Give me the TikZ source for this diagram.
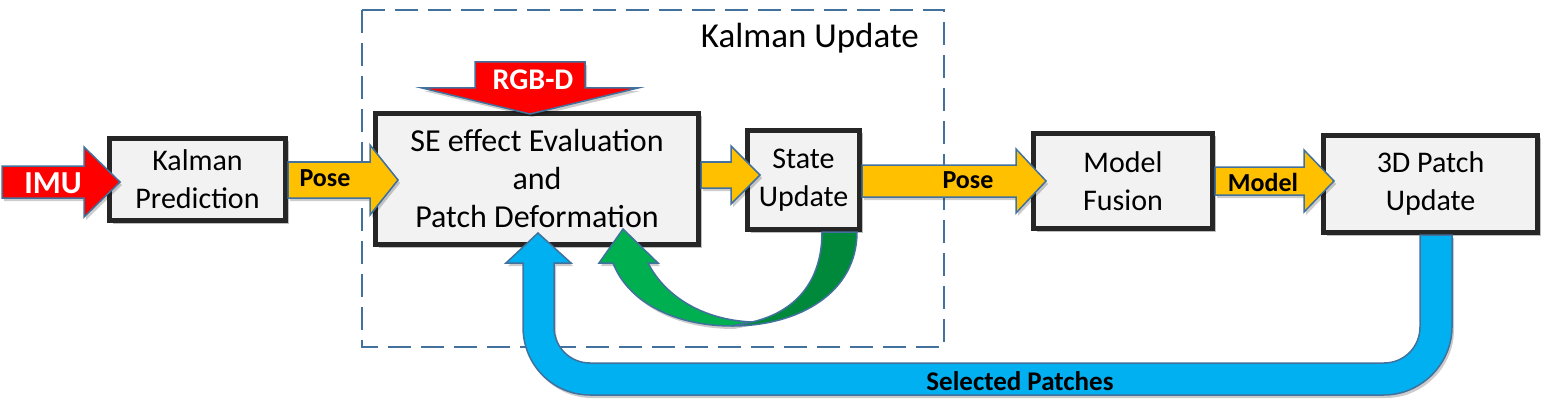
\documentclass[tikz,border=0pt]{standalone}
\usepackage{fontspec}
\setmainfont{Carlito}
\usetikzlibrary{calc,shadows}
\definecolor{boxline}{HTML}{262626}
\definecolor{boxfill}{HTML}{F2F2F2}
\definecolor{edge}{HTML}{41719C}
\definecolor{amber}{HTML}{FFC000}
\definecolor{imured}{HTML}{FF0000}
\definecolor{pipeblue}{HTML}{00B0F0}
\definecolor{lgreen}{HTML}{00B050}
\definecolor{dgreen}{HTML}{00883B}
\tikzset{
  procbox/.style={draw=boxline, line width=5pt, fill=boxfill, align=center,
    font=\fontsize{30}{38}\selectfont, inner sep=0pt,
    drop shadow={shadow xshift=3pt, shadow yshift=-3pt, opacity=0.25, fill=black}},
  blockarrow/.style={draw=edge, line width=1.5pt, line join=miter},
  lbl/.style={font=\fontsize{26}{30}\selectfont\bfseries, inner sep=0pt},
  wlbl/.style={font=\fontsize{32}{36}\selectfont\bfseries, text=white, inner sep=0pt},
  groupbox/.style={draw=edge, line width=2.5pt, dash pattern=on 23pt off 10pt},
  ashadow/.style={drop shadow={shadow xshift=2pt, shadow yshift=-3pt, opacity=0.2, fill=black}}
}
% horizontal block arrow: #1 start, #2 tip, #3 shaft half, #4 head half, #5 head length, #6 fill
\newcommand{\harrow}[6]{%
  \filldraw[blockarrow, fill=#6, ashadow] ($(#1)+(0,-#3)$) -- ($(#2)+(-#5,-#3)$) -- ($(#2)+(-#5,-#4)$) -- (#2)
   -- ($(#2)+(-#5,#4)$) -- ($(#2)+(-#5,#3)$) -- ($(#1)+(0,#3)$) -- cycle;}
\begin{document}
\begin{tikzpicture}[x=1pt,y=-1pt]
\useasboundingbox (0,0) rectangle (1550,409);

% group
\draw[groupbox] (362,10) rectangle (944,347);
\node[anchor=east, font=\fontsize{35}{40}\selectfont, inner sep=0pt] (kutitle) at (919,38) {Kalman Update};

% boxes
\node[procbox, minimum width=176pt, minimum height=82pt] (kp) at (197.5,179.5) {Kalman\\Prediction};
\node[procbox, minimum width=323pt, minimum height=131pt, font=\fontsize{32}{38}\selectfont] (se) at (537,179) {SE effect Evaluation\\and\\Patch Deformation};
\node[procbox, minimum width=112pt, minimum height=99pt] (su) at (803.5,180) {State\\Update};
\node[procbox, minimum width=179pt, minimum height=95pt] (mf) at (1123,181) {Model\\Fusion};
\node[procbox, minimum width=214pt, minimum height=97pt] (pu) at (1430.5,184) {3D Patch\\Update};

% arrow end points
\coordinate (imus) at (2,182);   \coordinate (imut) at (120,182);
\coordinate (p1s) at (kp.east |- 0,180); \coordinate (p1t) at (398,180);
\coordinate (sus) at (se.east |- 0,175); \coordinate (sut) at (760,175);
\coordinate (p2s) at (su.east |- 0,181); \coordinate (p2t) at (1046,181);
\coordinate (mds) at (mf.east |- 0,181); \coordinate (mdt) at (1334,181);

\harrow{imus}{imut}{16}{35}{36}{imured}
\harrow{p1s}{p1t}{18}{35}{28}{amber}
\harrow{sus}{sut}{13}{29}{29}{amber}
\harrow{p2s}{p2t}{16}{32}{30}{amber}
\harrow{mds}{mdt}{14}{31}{30}{amber}

\node[wlbl] (imul) at (53,183) {IMU};
\node[lbl] (pose1) at (325,178) {Pose};
\node[lbl] (pose2) at (968,180) {Pose};
\node[lbl] (modell) at (1263,182) {Model};

% RGB-D arrow
\coordinate (rgbt) at (530,114);
\filldraw[blockarrow, fill=imured, ashadow] (475,62) -- (585,62) -- (585,88) -- (638,88) -- (rgbt) -- (422,88) -- (475,88) -- cycle;
\node[wlbl, font=\fontsize{30}{34}\selectfont\bfseries] (rgbl) at (533,80) {RGB-D};

% green feedback arrow (state update -> SE)
\filldraw[blockarrow, fill=lgreen, ashadow] (732,326) .. controls (672,326) and (627,300) .. (613,263) -- (599,263) -- (623,229) -- (658,263) -- (648,263)
  .. controls (666,298) and (705,320) .. (752,322) -- cycle;
\filldraw[blockarrow, fill=dgreen] (857,232) .. controls (857,292) and (800,326) .. (732,326) -- (752,322)
  .. controls (795,312) and (822,282) .. (822,232) -- cycle;

% blue pipe (3D patch update -> SE)
\filldraw[blockarrow, fill=pipeblue, ashadow] (1420,235) -- (1420,327) .. controls (1420,347) and (1404,363) .. (1384,363)
  -- (590,363) .. controls (570,363) and (554,347) .. (554,327) -- (554,263) -- (571,263) -- (538,233)
  -- (506,263) -- (523,263) -- (523,327) .. controls (523,365) and (553,395) .. (590,395)
  -- (1384,395) .. controls (1421,395) and (1452,364) .. (1452,327) -- (1452,235) -- cycle;
\node[lbl, font=\fontsize{27}{30}\selectfont\bfseries] (selp) at (1020,381) {Selected Patches};
\end{tikzpicture}
\end{document}
